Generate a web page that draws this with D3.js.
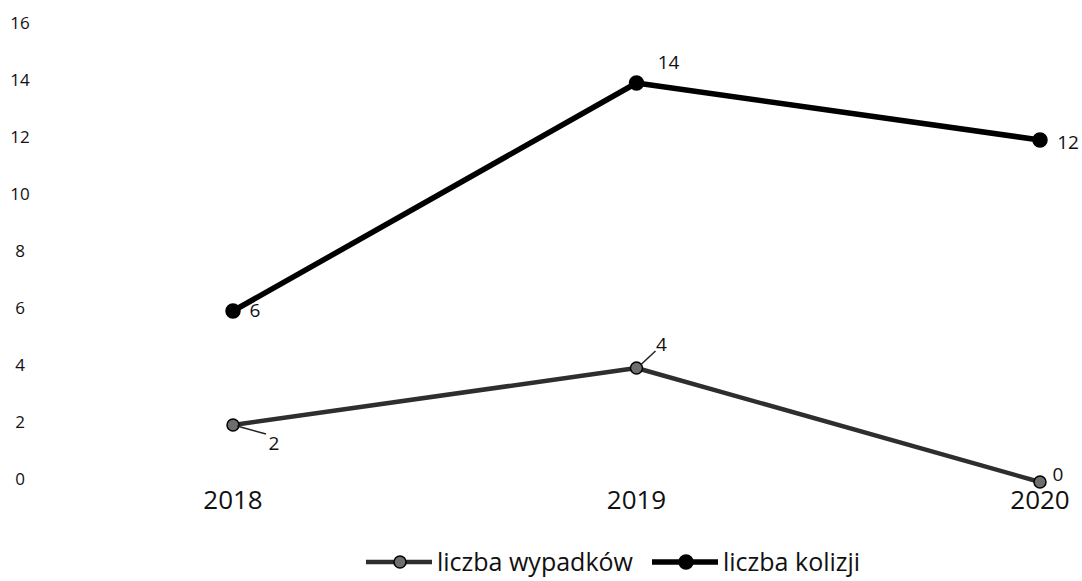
<!DOCTYPE html>
<html>
<head>
<meta charset="utf-8">
<script src="https://cdn.jsdelivr.net/npm/d3@7"></script>
<style>
  body { margin: 0; background: #fff; }
  svg { display: block; font-family: 'Open Sans', sans-serif; }
</style>
</head>
<body>
<svg id="chart" width="1082" height="581"></svg>
<script>
const years = ['2018', '2019', '2020'];
const wypadki = [2, 4, 0];
const kolizje = [6, 14, 12];
const yTicks = [0, 2, 4, 6, 8, 10, 12, 14, 16];
const seriesNames = ['liczba wypadków', 'liczba kolizji'];

const svg = d3.select('#chart');

const x = d3.scalePoint()
  .domain(years)
  .range([233, 1040]);

const y = d3.scaleLinear()
  .domain([0, 16])
  .range([482, 26]);

// y axis labels only, no axis line or gridlines
svg.append('g')
  .selectAll('text')
  .data(yTicks)
  .join('text')
  .attr('x', 20)
  .attr('y', d => y(d) - 3)
  .attr('dy', '0.35em')
  .attr('text-anchor', 'middle')
  .attr('font-size', 17)
  .attr('fill', '#111')
  .text(d => d);

// x labels
svg.append('g')
  .selectAll('text')
  .data(years)
  .join('text')
  .attr('x', d => x(d))
  .attr('y', 509)
  .attr('text-anchor', 'middle')
  .attr('font-size', 26)
  .attr('fill', '#111')
  .text(d => d);

const line = d3.line()
  .x((d, i) => x(years[i]))
  .y(d => y(d));

const styles = [
  { color: '#2e2e2e', width: 4.5, fill: '#6e6e6e', r: 6 },
  { color: '#000', width: 5.5, fill: '#000', r: 7 }
];

[wypadki, kolizje].forEach((vals, k) => {
  const st = styles[k];
  svg.append('path')
    .datum(vals)
    .attr('d', line)
    .attr('fill', 'none')
    .attr('stroke', st.color)
    .attr('stroke-width', st.width)
    .attr('stroke-linejoin', 'round');
  svg.append('g')
    .selectAll('circle')
    .data(vals)
    .join('circle')
    .attr('cx', (d, i) => x(years[i]))
    .attr('cy', d => y(d))
    .attr('r', st.r)
    .attr('fill', st.fill)
    .attr('stroke', '#000')
    .attr('stroke-width', 1.5);
});

// data labels, offsets per point
const kolOffsets = [[22, -1], [32, -21], [28, 2]];
const wypOffsets = [[41, 18], [25, -24], [18, -8]];

svg.append('g')
  .selectAll('text')
  .data(kolizje)
  .join('text')
  .attr('x', (d, i) => x(years[i]) + kolOffsets[i][0])
  .attr('y', (d, i) => y(d) + kolOffsets[i][1])
  .attr('dy', '0.35em')
  .attr('text-anchor', 'middle')
  .attr('font-size', 19)
  .attr('fill', '#111')
  .text(d => d);

// leader lines for wypadki labels at 2018 and 2019
svg.append('line')
  .attr('x1', x('2018') + 4).attr('y1', y(2) + 1)
  .attr('x2', x('2018') + 33).attr('y2', y(2) + 9)
  .attr('stroke', '#222').attr('stroke-width', 1.5);
svg.append('line')
  .attr('x1', x('2019') + 4).attr('y1', y(4) - 3)
  .attr('x2', x('2019') + 19).attr('y2', y(4) - 17)
  .attr('stroke', '#222').attr('stroke-width', 1.5);

svg.append('g')
  .selectAll('text')
  .data(wypadki)
  .join('text')
  .attr('x', (d, i) => x(years[i]) + wypOffsets[i][0])
  .attr('y', (d, i) => y(d) + wypOffsets[i][1])
  .attr('dy', '0.35em')
  .attr('text-anchor', 'middle')
  .attr('font-size', 19)
  .attr('fill', '#111')
  .text(d => d);

// legend
const legend = svg.append('g').attr('transform', 'translate(0,562)');
const legX = [366, 652];
seriesNames.forEach((name, k) => {
  const st = styles[k];
  const g = legend.append('g').attr('transform', `translate(${legX[k]},0)`);
  g.append('line')
    .attr('x1', 0).attr('x2', 66)
    .attr('stroke', st.color).attr('stroke-width', st.width);
  g.append('circle')
    .attr('cx', 34).attr('r', st.r)
    .attr('fill', st.fill).attr('stroke', '#000').attr('stroke-width', 1.5);
  g.append('text')
    .attr('x', 71)
    .attr('dy', '0.35em')
    .attr('font-size', 25)
    .attr('fill', '#111')
    .text(name);
});
</script>
</body>
</html>
